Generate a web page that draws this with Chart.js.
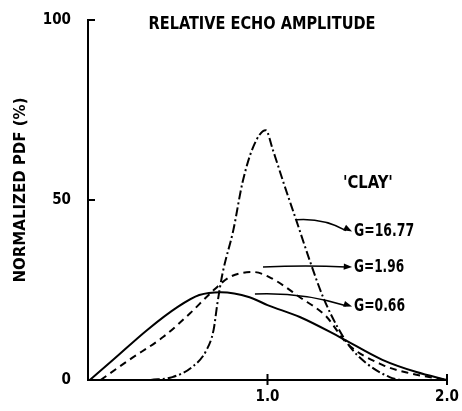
<!DOCTYPE html>
<html><head><meta charset="utf-8">
<script src="https://cdn.jsdelivr.net/npm/chart.js@4/dist/chart.umd.min.js"></script>
<style>html,body{margin:0;padding:0;background:#fff}#wrap{width:462px;height:411px}</style>
</head><body><div id="wrap"><canvas id="c"></canvas></div>
<script>
// ---- data ----
const titleText = 'RELATIVE ECHO AMPLITUDE';
const yAxisTitle = 'NORMALIZED PDF (%)';
const materialLabel = "'CLAY'";
const seriesNames = ['G=0.66', 'G=1.96', 'G=16.77'];
const yTickValues = [0, 50, 100];
const xTickValues = [0, 1, 2];
const xTickLabels = ['', '1.0', '2.0'];

const g066X = [0.01, 0.14, 0.33, 0.50, 0.62, 0.74, 0.90, 1.00, 1.18, 1.40, 1.64, 1.83, 2.0];
const g066Y = [0, 5.6, 13.9, 20.3, 23.6, 24.4, 23.0, 20.8, 17.5, 12.0, 5.6, 2.2, 0];

const g196X = [0.07, 0.23, 0.42, 0.57, 0.68, 0.79, 0.92, 1.01, 1.18, 1.33, 1.44, 1.64, 1.79, 2.0];
const g196Y = [0, 5.6, 12.0, 18.6, 24.0, 28.6, 30.0, 28.6, 23.0, 17.5, 10.3, 4.2, 1.9, 0];

const g1677X = [0.35, 0.47, 0.58, 0.66, 0.70, 0.72, 0.75, 0.81, 0.86, 0.92, 0.99, 1.03, 1.09, 1.16, 1.24, 1.31, 1.39, 1.46, 1.55, 1.68, 1.74];
const g1677Y = [0, 0.8, 3.6, 8.3, 14.0, 21.0, 29.7, 41.7, 54.7, 64.7, 69.4, 63.9, 54.7, 44.4, 32.5, 23.0, 14.7, 9.2, 4.7, 0.8, 0];

// annotation anchors in data units: [curveX, curveY, textX, textY]
const labelAnchors = [
  [0.93, 23.9, 1.46, 20.6],
  [0.975, 31.4, 1.46, 31.4],
  [1.16, 44.5, 1.46, 41.5]
];
const clayAnchor = [1.42, 54.5];

// ---- chart ----
const FONT = '"Liberation Sans Narrow", "DejaVu Sans Condensed", sans-serif';
const pts = (xs, ys) => xs.map((x, i) => ({x, y: ys[i]}));

// draw text squeezed horizontally to a given width
function fitText(ctx, text, x, y, size, width, align) {
  ctx.font = 'bold ' + size + 'px ' + FONT;
  const w = ctx.measureText(text).width;
  const k = width / w;
  ctx.save();
  ctx.translate(x, y); ctx.scale(k, 1);
  ctx.textAlign = align; ctx.textBaseline = 'middle';
  ctx.fillText(text, 0, 0);
  ctx.restore();
}

const decor = {
  id: 'decor',
  afterDraw(chart) {
    const ctx = chart.ctx, xs = chart.scales.x, ys = chart.scales.y;
    ctx.save();
    ctx.strokeStyle = '#000'; ctx.fillStyle = '#000'; ctx.lineWidth = 2;
    // inward tick marks
    const x0 = xs.getPixelForValue(0), y0 = ys.getPixelForValue(0);
    [50, 100].forEach(v => { const p = ys.getPixelForValue(v);
      ctx.beginPath(); ctx.moveTo(x0, p); ctx.lineTo(x0 + 7, p); ctx.stroke(); });
    [1, 2].forEach(v => { const p = xs.getPixelForValue(v);
      ctx.beginPath(); ctx.moveTo(p, y0 - 6); ctx.lineTo(p, y0 + 5); ctx.stroke(); });
    // title
    fitText(ctx, titleText, 262, 24, 18, 227, 'center');
    // y axis title (rotated)
    ctx.save(); ctx.translate(21, 190); ctx.rotate(-Math.PI / 2);
    fitText(ctx, yAxisTitle, 0, 0, 16, 185, 'center');
    ctx.restore();
    // material label
    fitText(ctx, materialLabel, xs.getPixelForValue(clayAnchor[0]), ys.getPixelForValue(clayAnchor[1]), 17, 50, 'left');
    // series labels with arrows
    const widths = [51, 50, 60];
    labelAnchors.forEach((a, i) => {
      const sx = xs.getPixelForValue(a[0]), sy = ys.getPixelForValue(a[1]);
      const ex = xs.getPixelForValue(a[2]), ey = ys.getPixelForValue(a[3]);
      ctx.lineWidth = 1.6;
      ctx.beginPath(); ctx.moveTo(sx, sy);
      const cx = (sx + ex) / 2, cy = Math.min(sy, ey) - 2;
      ctx.quadraticCurveTo(cx, cy, ex - 4, ey);
      ctx.stroke();
      const ang = Math.atan2(ey - cy, ex - 4 - cx);
      ctx.beginPath(); ctx.moveTo(ex + 2, ey + Math.sin(ang) * 2);
      ctx.lineTo(ex - 7 * Math.cos(ang - 0.45) , ey - 7 * Math.sin(ang - 0.45));
      ctx.lineTo(ex - 7 * Math.cos(ang + 0.45) , ey - 7 * Math.sin(ang + 0.45));
      ctx.closePath(); ctx.fill();
      fitText(ctx, seriesNames[i], ex + 4, ey + 1, 17, widths[i], 'left');
    });
    ctx.restore();
  }
};

new Chart(document.getElementById('c'), {
  type: 'line',
  data: {
    datasets: [
      {label: seriesNames[0], data: pts(g066X, g066Y), borderDash: []},
      {label: seriesNames[1], data: pts(g196X, g196Y), borderDash: [7, 5]},
      {label: seriesNames[2], data: pts(g1677X, g1677Y), borderDash: [9, 3, 2, 3]}
    ].map(d => Object.assign({
      borderColor: '#000', borderWidth: 2, pointRadius: 0, fill: false,
      cubicInterpolationMode: 'monotone'
    }, d))
  },
  options: {
    responsive: true, maintainAspectRatio: false, animation: false,
    layout: {padding: {left: 0, right: 15, top: 20, bottom: 0}},
    plugins: {legend: {display: false}, tooltip: {enabled: false}},
    scales: {
      x: {
        type: 'linear', min: 0, max: 2,
        afterBuildTicks: s => { s.ticks = xTickValues.map(v => ({value: v})); },
        ticks: {callback: (v) => xTickLabels[xTickValues.indexOf(v)] ?? '', color: '#000',
          font: {family: FONT, size: 15, weight: 'bold'}, maxRotation: 0, padding: 8},
        grid: {display: false, drawTicks: false},
        border: {color: '#000', width: 2},
        afterFit: s => { s.height = 31; s.paddingLeft = 0; s.paddingRight = 0; s.paddingTop = 0; s.paddingBottom = 0; }
      },
      y: {
        min: 0, max: 100,
        afterBuildTicks: s => { s.ticks = yTickValues.map(v => ({value: v})); },
        ticks: {color: '#000', font: {family: FONT, size: 15, weight: 'bold'}, padding: 17},
        grid: {display: false, drawTicks: false},
        border: {color: '#000', width: 2},
        afterFit: s => { s.width = 88; s.paddingLeft = 0; s.paddingRight = 0; s.paddingTop = 0; s.paddingBottom = 0; }
      }
    }
  },
  plugins: [decor]
});
</script></body></html>
